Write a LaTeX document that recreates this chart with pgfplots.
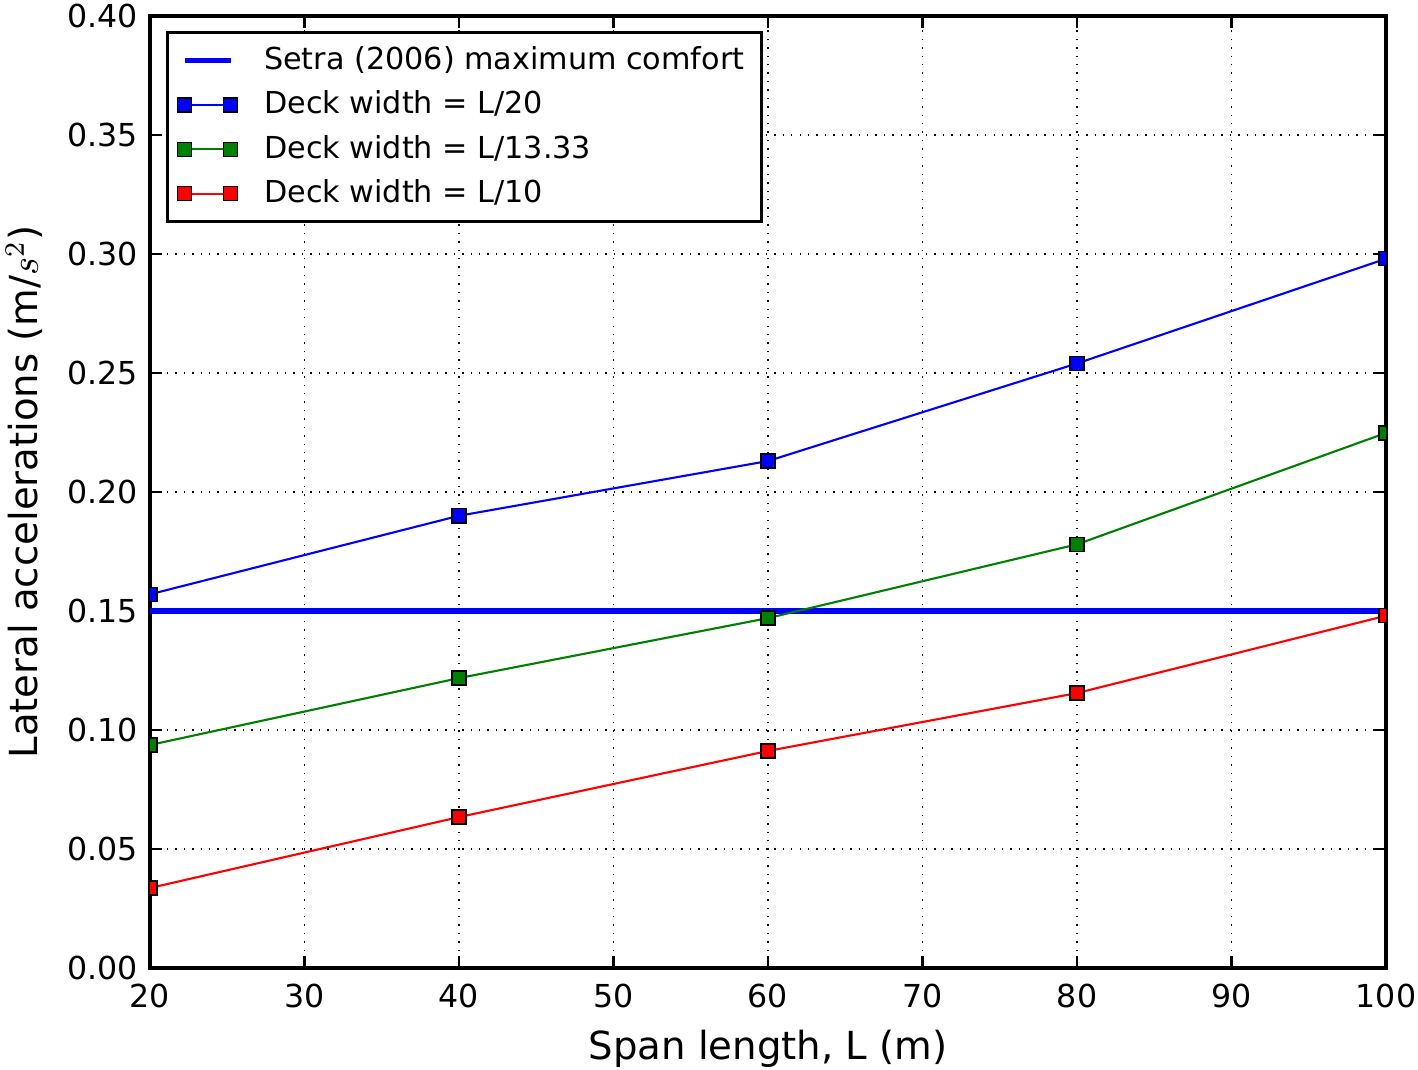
\documentclass[border=0pt]{standalone}
\usepackage{pgfplots}
\pgfplotsset{compat=1.18}
\usepackage{fontspec}
\setmainfont{DejaVu Sans}
\begin{document}
\begin{tikzpicture}
\begin{axis}[
  scale only axis,
  width=12.36cm, height=9.52cm,
  xmin=20, xmax=100, ymin=0, ymax=0.4,
  xtick={20,30,...,100},
  ytick={0,0.05,...,0.4},
  yticklabel style={/pgf/number format/.cd,fixed,fixed zerofill,precision=2},
  xticklabel style={yshift=-0.04cm},
  /pgf/number format/assume math mode=true,
  tick label style={font=\fontsize{9}{10}\selectfont},
  tick align=inside,
  major tick length=0.12cm,
  tick style={black, line width=0.6pt},
  axis line style={line width=0.9pt},
  grid=major,
  major grid style={black, dotted, line width=0.5pt},
  xlabel={Span length, L (m)},
  ylabel={Lateral accelerations (m/$s^2$)},
  label style={font=\fontsize{11}{12}\selectfont},
  xlabel style={yshift=0.025cm},
  clip marker paths=true,
  legend style={at={(0.013,0.984)}, anchor=north west, draw=black, line width=0.8pt,
    font=\fontsize{8.6}{10}\selectfont, row sep=0.02cm, inner xsep=0.1cm, inner ysep=0.07cm, cells={anchor=west}},
  legend image code/.code={\draw[mark repeat=2,mark phase=1,#1] plot coordinates {(0cm,0cm) (0.23cm,0cm) (0.46cm,0cm)}; \path (0.70cm,0cm);},
]
\addplot[blue, line width=1.5pt] coordinates {(20,0.15) (100,0.15)};
\addlegendentry{Setra (2006) maximum comfort}
\addplot[blue, line width=0.6pt, mark=square*, mark size=2pt, mark options={draw=black, fill=blue, line width=0.4pt}] coordinates {
(20,0.157) (40,0.190) (60,0.213) (80,0.254) (100,0.298)};
\addlegendentry{Deck width = L/20}
\addplot[color={rgb,1:red,0;green,0.5;blue,0}, line width=0.6pt, mark=square*, mark size=2pt, mark options={draw=black, fill={rgb,1:red,0;green,0.5;blue,0}, line width=0.4pt}] coordinates {
(20,0.0937) (40,0.1218) (60,0.147) (80,0.178) (100,0.2248)};
\addlegendentry{Deck width = L/13.33}
\addplot[red, line width=0.6pt, mark=square*, mark size=2pt, mark options={draw=black, fill=red, line width=0.4pt}] coordinates {
(20,0.0336) (40,0.0634) (60,0.0912) (80,0.1155) (100,0.148)};
\addlegendentry{Deck width = L/10}
\end{axis}
\pgfresetboundingbox
\path ([shift={(-1.50cm,-1.02cm)}]current axis.south west) rectangle ([shift={(0.32cm,0.16cm)}]current axis.north east);
\end{tikzpicture}
\end{document}
